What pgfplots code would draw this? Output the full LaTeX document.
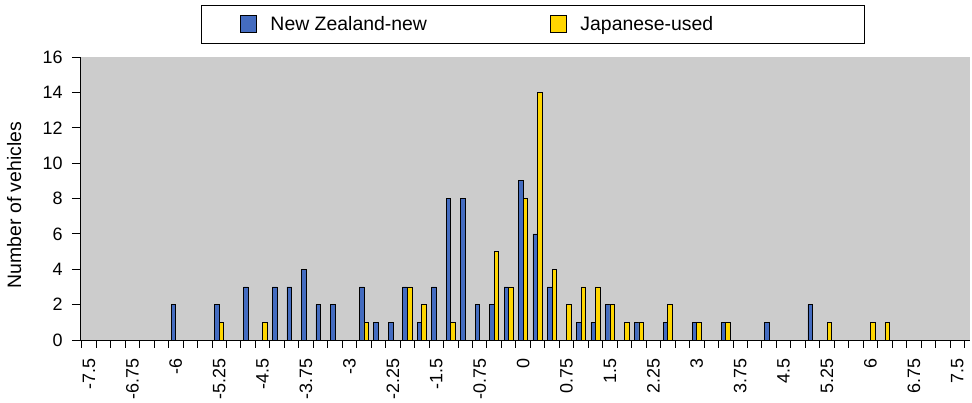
\documentclass[border=0pt]{standalone}
\usepackage{fontspec}
\setmainfont{Liberation Sans}
\usepackage{pgfplots}
\pgfplotsset{compat=1.18}
\definecolor{nzblue}{RGB}{68,108,192}
\definecolor{jpyellow}{RGB}{255,214,0}
\definecolor{plotbg}{RGB}{204,204,204}
\begin{document}
\begin{tikzpicture}
\begin{axis}[name=ax, scale only axis, width=890bp, height=283bp,
 xmin=-7.655, xmax=7.72, ymin=0, ymax=16,
 axis x line*=bottom, axis y line*=left,
 axis line style={black, line width=0.9bp, -},
 axis background/.style={fill=plotbg},
 ybar, bar width=0.08,
 ytick={0,2,4,6,8,10,12,14,16},
 xtick={-7.625,-7.375,-7.125,-6.875,-6.625,-6.375,-6.125,-5.875,-5.625,-5.375,-5.125,-4.875,-4.625,-4.375,-4.125,-3.875,-3.625,-3.375,-3.125,-2.875,-2.625,-2.375,-2.125,-1.875,-1.625,-1.375,-1.125,-0.875,-0.625,-0.375,-0.125,0.125,0.375,0.625,0.875,1.125,1.375,1.625,1.875,2.125,2.375,2.625,2.875,3.125,3.375,3.625,3.875,4.125,4.375,4.625,4.875,5.125,5.375,5.625,5.875,6.125,6.375,6.625,6.875,7.125,7.375,7.625},
 xticklabels={},
 extra x ticks={-7.5,-6.75,-6,-5.25,-4.5,-3.75,-3,-2.25,-1.5,-0.75,0,0.75,1.5,2.25,3,3.75,4.5,5.25,6,6.75,7.5},
 extra x tick labels={-7.5,-6.75,-6,-5.25,-4.5,-3.75,-3,-2.25,-1.5,-0.75,0,0.75,1.5,2.25,3,3.75,4.5,5.25,6,6.75,7.5},
 extra x tick style={tick style={draw=none}, xticklabel style={yshift=-7bp, rotate=90, anchor=east, font=\fontsize{18}{20}\selectfont}},
 tick align=outside, major tick length=8bp,
 tick style={draw=black, line width=0.9bp},
 yticklabel style={xshift=-6bp, font=\fontsize{18}{20}\selectfont},
 /pgf/number format/assume math mode=true,
 ylabel={Number of vehicles},
 every axis y label/.style={at={(axis description cs:-0.074,0.477)}, rotate=90, anchor=center, font=\fontsize{19.5}{22}\selectfont},
 legend columns=2,
 legend style={at={(axis description cs:0.136,1.184)}, anchor=north west, draw=black, line width=0.9bp, fill=white, inner xsep=0pt, inner ysep=0pt, font=\fontsize{19.5}{22}\selectfont, cells={inner sep=0pt, anchor=west}, /tikz/every even column/.append style={column sep=0pt}},
 legend image code/.code={\draw[#1,line width=0.8bp] (39bp,-8.5bp) rectangle (55bp,8.5bp); \path[draw=none,fill=none] (0bp,-19bp) rectangle (67bp,19bp);},
]
\addplot[fill=nzblue, draw=black, line width=0.7bp, bar shift=-0.04] coordinates {
(-6,2) (-5.25,2) (-4.75,3) (-4.25,3) (-4,3) (-3.75,4) (-3.5,2) (-3.25,2)
(-2.75,3) (-2.5,1) (-2.25,1) (-2,3) (-1.75,1) (-1.5,3) (-1.25,8) (-1,8)
(-0.75,2) (-0.5,2) (-0.25,3) (0,9) (0.25,6) (0.5,3) (1,1) (1.25,1) (1.5,2)
(2,1) (2.5,1) (3,1) (3.5,1) (4.25,1) (5,2)};
\addplot[fill=jpyellow, draw=black, line width=0.7bp, bar shift=0.04] coordinates {
(-5.25,1) (-4.5,1) (-2.75,1) (-2,3) (-1.75,2) (-1.25,1) (-0.5,5) (-0.25,3)
(0,8) (0.25,14) (0.5,4) (0.75,2) (1,3) (1.25,3) (1.5,2) (1.75,1) (2,1)
(2.5,2) (3,1) (3.5,1) (5.25,1) (6,1) (6.25,1)};
\legend{\makebox[239bp][l]{New Zealand-new},\makebox[282bp][l]{Japanese-used}}
\end{axis}
\pgfresetboundingbox
\path[use as bounding box] ([shift={(-80bp,-63bp)}]ax.south west) rectangle ([shift={(2bp,57bp)}]ax.north east);
\end{tikzpicture}
\end{document}
